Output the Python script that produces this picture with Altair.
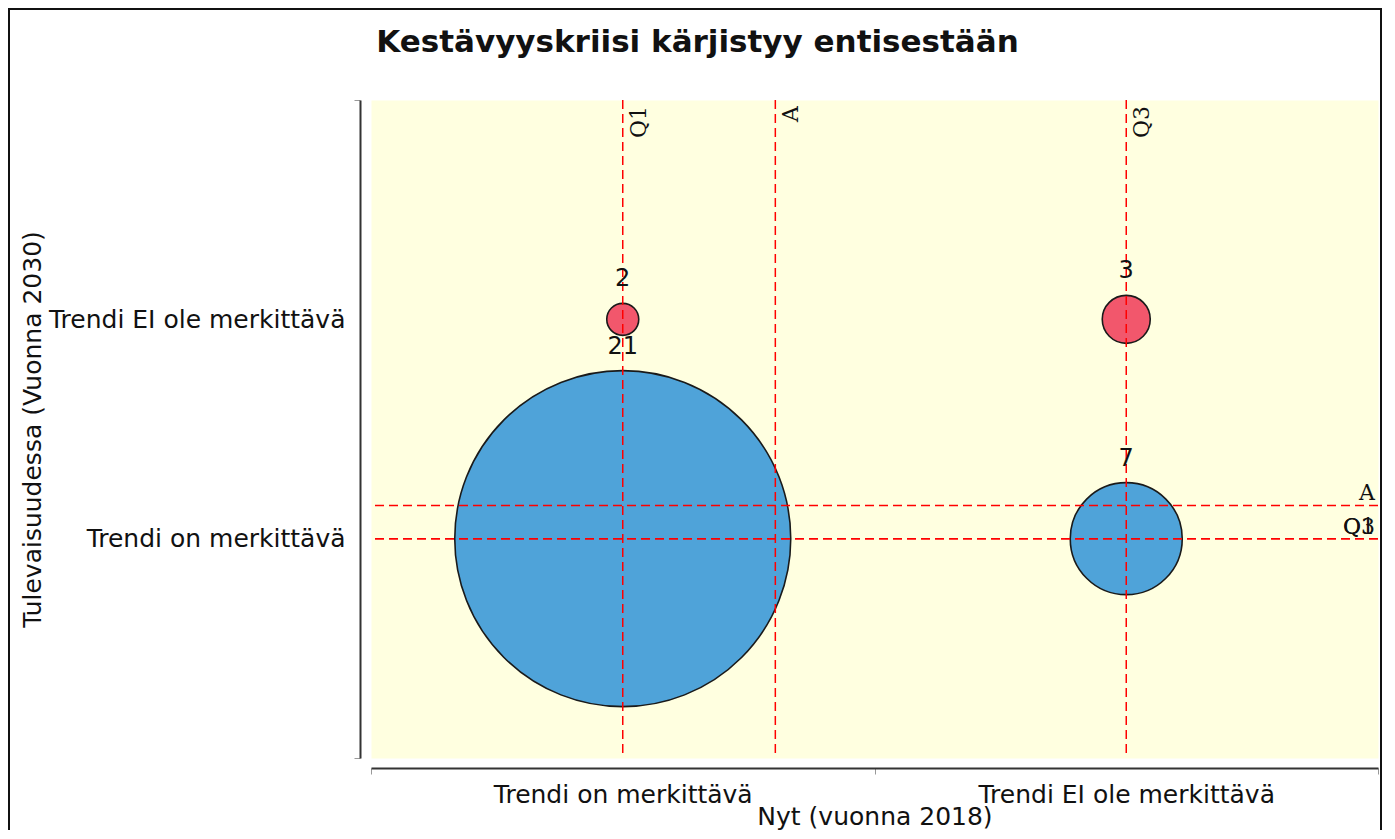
import altair as alt
import numpy as np
import pandas as pd

# ---- data ----
categories = ["Trendi on merkittävä", "Trendi EI ole merkittävä"]
nyt = ["Trendi on merkittävä", "Trendi on merkittävä",
       "Trendi EI ole merkittävä", "Trendi EI ole merkittävä"]
tulevaisuus = ["Trendi on merkittävä", "Trendi EI ole merkittävä",
               "Trendi EI ole merkittävä", "Trendi on merkittävä"]
counts = [21, 2, 3, 7]

title_text = "Kestävyyskriisi kärjistyy entisestään"
x_title = "Nyt (vuonna 2018)"
y_title = "Tulevaisuudessa (Vuonna 2030)"

# ---- derived table ----
xpos = [categories.index(c) + 1 for c in nyt]
ypos = [categories.index(c) + 1 for c in tulevaisuus]
bub = pd.DataFrame({"nyt": nyt, "tul": tulevaisuus, "x": xpos, "y": ypos, "n": counts})

xs = np.repeat(xpos, counts)
ys = np.repeat(ypos, counts)
vlines = pd.DataFrame({"v": [np.percentile(xs, 25), xs.mean(), np.percentile(xs, 75)],
                       "lab": ["Q1", "A", "Q3"]})
hlines = pd.DataFrame({"v": [np.percentile(ys, 25), ys.mean(), np.percentile(ys, 75)],
                       "lab": ["Q1", "A", "Q3"]})

# ---- layout / style ----
W, H = 1007, 658
FONT = "DejaVu Sans"
R_MAX = 168.0
N_MAX = max(counts)
px_per_y = H / 3.0

x_scale = alt.Scale(domain=[0.5, 2.5], nice=False, zero=False)
y_scale = alt.Scale(domain=[0, 3], nice=False, zero=False)

x_lab_expr = ("datum.value == 1 ? '%s' : datum.value == 2 ? '%s' : ''"
              % (categories[0], categories[1]))
hide_mid_ticks = {"condition": {"test": "datum.value == 1 || datum.value == 2", "value": 0},
                  "value": 1}

common_axis = dict(labelExpr=x_lab_expr, tickOpacity=hide_mid_ticks, grid=False,
                   domainColor="#333333", domainWidth=2, tickColor="#999999",
                   tickSize=6, tickWidth=1, labelFont=FONT, labelFontSize=25,
                   labelColor="#111111", labelFlush=False, labelOverlap=False,
                   labelLimit=0, titleLimit=0, titleFont=FONT, titleFontSize=25,
                   titleFontWeight="normal", titleColor="#111111")
x_axis = alt.Axis(title=x_title, values=[0.5, 1, 1.5, 2, 2.5], offset=10,
                  labelPadding=8, titleX=W / 2, titleY=56, titleAlign="center",
                  titleBaseline="alphabetic", **common_axis)
y_axis = alt.Axis(title=y_title, values=[0, 1, 2, 3], offset=11,
                  labelPadding=9, titleX=-328, titleY=H / 2, titleAngle=270,
                  titleAlign="center", titleBaseline="middle", **common_axis)

X = lambda f: alt.X(f, scale=x_scale, axis=x_axis)
Y = lambda f: alt.Y(f, scale=y_scale, axis=y_axis)

bubbles = alt.Chart(bub).mark_circle(opacity=1, stroke="#1a1a1a", strokeWidth=1.6).encode(
    x=X("x:Q"), y=Y("y:Q"),
    size=alt.Size("n:Q", scale=alt.Scale(type="pow", exponent=2, domain=[0, N_MAX],
                                         range=[0, float((2 * R_MAX) ** 2)]), legend=None),
    color=alt.Color("tul:N", scale=alt.Scale(domain=categories, range=["#4FA3D9", "#F2576C"]),
                    legend=None),
)

num_labels = alt.Chart(bub).transform_calculate(
    ly="datum.y + (%f * datum.n / %f + 17) / %f" % (R_MAX, N_MAX, px_per_y)
).mark_text(font=FONT, fontSize=24, baseline="alphabetic", color="#111111").encode(
    x=X("x:Q"), y=Y("ly:Q"), text="n:Q")

dash = dict(color="#FF0000", strokeDash=[9, 5], strokeWidth=1.5)
vrules = alt.Chart(vlines).mark_rule(**dash).encode(x=X("v:Q"))
hrules = alt.Chart(hlines).mark_rule(**dash).encode(y=Y("v:Q"))

vtext = alt.Chart(vlines).mark_text(angle=270, align="right", baseline="top", dy=6,
                                    font="DejaVu Serif", fontSize=22, color="#111111").encode(
    x=X("v:Q"), y=alt.value(6), text="lab:N")
htext = alt.Chart(hlines).mark_text(align="right", baseline="alphabetic", dy=-5,
                                    font="DejaVu Serif", fontSize=22, color="#111111").encode(
    x=alt.value(W - 3), y=Y("v:Q"), text="lab:N")

one = pd.DataFrame({"t": [title_text]})
title = alt.Chart(one).mark_text(font=FONT, fontSize=31, fontWeight="bold", color="#111111",
                                 align="center", baseline="alphabetic").encode(
    x=alt.value(W / 2 - 177), y=alt.value(-48), text="t:N")

frame = alt.Chart(one).mark_rect(
    fillOpacity=0, stroke="#111111", strokeWidth=2).encode(
    x=alt.value(-362), x2=alt.value(W + 3), y=alt.value(-91), y2=alt.value(H + 80))

chart = alt.layer(bubbles, hrules, vrules, num_labels, vtext, htext, title, frame).properties(
    width=W, height=H,
    padding={"left": 363, "top": 92, "right": 5, "bottom": 72},
    autosize=alt.AutoSizeParams(type="none"),
).configure_view(fill="#FFFFE0", stroke="transparent")

chart.save("out.html", embed_options={"renderer": "svg", "actions": False})
